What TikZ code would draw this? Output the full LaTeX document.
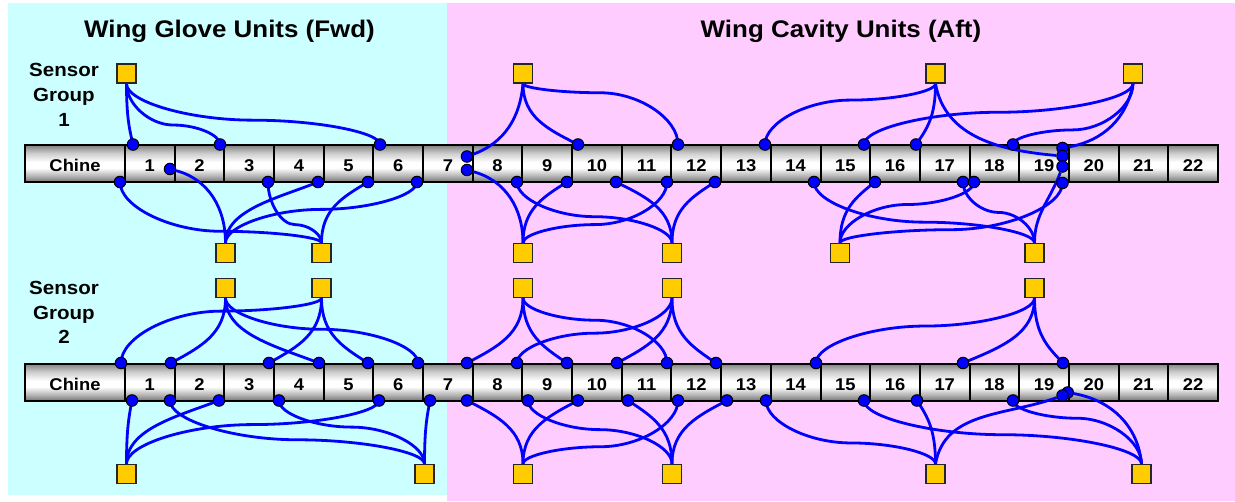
\documentclass[tikz,border=0pt]{standalone}
\usepackage{fontspec}
\setmainfont{Liberation Sans}
\usetikzlibrary{calc}
\definecolor{cyanbg}{RGB}{204,255,255}
\definecolor{pinkbg}{RGB}{255,204,255}
\definecolor{gold}{RGB}{255,204,0}
\definecolor{wireblue}{RGB}{0,0,255}
\pgfdeclarelayer{bgl}\pgfdeclarelayer{wl}\pgfsetlayers{bgl,wl,main}
\pgfdeclareverticalshading{cylsh}{100bp}{color(0bp)=(black!55); color(25bp)=(black!55); color(33bp)=(black!30); color(44bp)=(white); color(52bp)=(white); color(64bp)=(black!20); color(75bp)=(black!50); color(100bp)=(black!50)}
\newcommand\wx[1]{\scalebox{1.08}[1]{#1}}
% S-shaped connector: vertical tangents at both ends, flat part at fraction #1
\newcommand\wirec[3][0.5]{%
  \draw[wire] let \p1=(#2), \p2=(#3), \n1={\y1+#1*(\y2-\y1)} in
    (\p1) .. controls (\x1,{0.5*\y1+0.5*\n1}) and ({0.75*\x1+0.25*\x2},\n1)
    .. ({0.5*\x1+0.5*\x2},\n1)
    .. controls ({0.25*\x1+0.75*\x2},\n1) and (\x2,{0.5*\n1+0.5*\y2}) .. (\p2);%
}
% short connector: vertical at the square (#2), slanted at the dot (#3)
\newcommand\wiresh[3][0.55]{%
  \draw[wire] let \p1=(#2), \p2=(#3) in
    (\p1) .. controls (\x1,{\y1+0.55*(\y2-\y1)}) and ({\x2+#1*(\x1-\x2)},{\y2+0.25*(\y1-\y2)}) .. (\p2);%
}
\tikzset{
  sq/.style={draw=black!85, line width=1.3pt, fill=gold, minimum size=19pt, inner sep=0pt},
  dot/.style={circle, draw=black, line width=1pt, fill=wireblue, minimum size=11.5pt, inner sep=0pt},
  wire/.style={draw=wireblue, line width=2.8pt},
  cell/.style={draw=black, line width=2pt, shade, shading=cylsh},
  celltxt/.style={font=\fontsize{17}{20}\selectfont\bfseries, inner sep=0pt, anchor=base},
  titletxt/.style={font=\fontsize{24}{28}\selectfont\bfseries, inner sep=0pt, anchor=base},
  sgtxt/.style={font=\fontsize{19}{23}\selectfont\bfseries, inner sep=0pt, anchor=base},
}
\begin{document}
\begin{tikzpicture}[x=1pt,y=-1pt]
\useasboundingbox (0,0) rectangle (1235,501);
\begin{pgfonlayer}{bgl}
  \fill[cyanbg] (7.5,3) rectangle (447,495);
  \fill[pinkbg] (447,3) rectangle (1235,501);
  % bars
  \foreach \g/\ya/\yb/\yt in {1/145/182/171.5, 2/363.5/401/390} {
    \draw[cell] (25,\ya) rectangle (125,\yb);
    \node[celltxt] (c\g-0) at (75,\yt) {\wx{Chine}};
    \foreach \k in {1,...,22} {
      \pgfmathsetmacro\xa{125+49.68*(\k-1)}
      \pgfmathsetmacro\xb{125+49.68*\k}
      \draw[cell] (\xa,\ya) rectangle (\xb,\yb);
      \node[celltxt] (c\g-\k) at ({(\xa+\xb)/2},\yt) {\wx{\k}};
    }
  }
\end{pgfonlayer}

% titles
\node[titletxt] (title1) at (229.5,37.5) {\wx{Wing Glove Units (Fwd)}};
\node[titletxt] (title2) at (841,37.5) {\wx{Wing Cavity Units (Aft)}};
\node[sgtxt] (sg1a) at (64,76.7) {\wx{Sensor}};
\node[sgtxt] (sg1b) at (64,101.5) {\wx{Group}};
\node[sgtxt] (sg1c) at (64,126) {\wx{1}};
\node[sgtxt] (sg2a) at (64,294.3) {\wx{Sensor}};
\node[sgtxt] (sg2b) at (64,319.2) {\wx{Group}};
\node[sgtxt] (sg2c) at (64,343.5) {\wx{2}};

% squares
\node[sq] (s1t1) at (126.5,73.5) {};
\node[sq] (s1t2) at (523,73.5) {};
\node[sq] (s1t3) at (935.5,73.5) {};
\node[sq] (s1t4) at (1133,73.5) {};
\node[sq] (s1b1) at (225.5,253) {};
\node[sq] (s1b2) at (321.5,253) {};
\node[sq] (s1b3) at (523,253) {};
\node[sq] (s1b4) at (672,253) {};
\node[sq] (s1b5) at (840,253) {};
\node[sq] (s1b6) at (1034.5,253) {};
\node[sq] (s2t1) at (225.5,288) {};
\node[sq] (s2t2) at (321.5,288) {};
\node[sq] (s2t3) at (523,288) {};
\node[sq] (s2t4) at (672,288) {};
\node[sq] (s2t5) at (1034.5,288) {};
\node[sq] (s2b1) at (126.5,474) {};
\node[sq] (s2b2) at (424.5,474) {};
\node[sq] (s2b3) at (523,474) {};
\node[sq] (s2b4) at (672,474) {};
\node[sq] (s2b5) at (935.5,474) {};
\node[sq] (s2b6) at (1141.5,474) {};

% dots group 1
\foreach \a in {133,220,380,578,678,765,864,916,1013} \node[dot] (u\a) at (\a,144.5) {};
\node[dot] (u467) at (467,156.5) {};
\node[dot] (u1062a) at (1062.5,148) {};
\node[dot] (u1062b) at (1062.5,156) {};
\foreach \a in {120,268,318,368,417,517,567,616,667,715,814,875,963,974} \node[dot] (v\a) at (\a,182) {};
\node[dot] (v170) at (170,169) {};
\node[dot] (v467) at (467,170) {};
\node[dot] (v1062a) at (1062.5,166.5) {};
\node[dot] (v1062) at (1062.5,183) {};
% dots group 2
\foreach \a in {121,171,269,319,368,418,467,517,567,617,667,716,816,963,1063} \node[dot] (U\a) at (\a,363) {};
\foreach \a in {132,170,219,279,379,430,467,528,578,628,678,727,766,864,917,1013} \node[dot] (V\a) at (\a,400.5) {};
\node[dot] (V1068) at (1067.7,392.5) {};
\node[dot] (V1063) at (1062.5,395.5) {};

\begin{pgfonlayer}{wl}
% group 1 top
\wiresh{s1t1.south}{u133}
\wirec[0.68]{s1t1.south}{u220}
\wirec[0.6]{s1t1.south}{u380}
\draw[wire] (s1t2.south) to[out=-95,in=20] (u467);
\wiresh{s1t2.south}{u578}
\wirec[0.15]{s1t2.south}{u678}
\wirec[0.27]{s1t3.south}{u765}
\wirec[0.47]{s1t4.south}{u864}
\wiresh{s1t3.south}{u916}
\wirec[0.76]{s1t4.south}{u1013}
\draw[wire] (s1t4.south) to[out=-100,in=10] (u1062a);
\draw[wire] (s1t3.south) to[out=-80,in=175] (u1062b);
% group 1 bottom
\wirec[0.81]{v120}{s1b2.north}
\draw[wire] (v170) to[out=-15,in=90] (s1b1.north);
\wirec[0.7]{v268}{s1b2.north}
\wiresh[0.4]{s1b1.north}{v318}
\wiresh{s1b2.north}{v368}
\wirec[0.45]{v417}{s1b1.north}
\draw[wire] (v467) to[out=-15,in=90] (s1b3.north);
\wirec[0.57]{v517}{s1b4.north}
\wiresh{s1b3.north}{v567}
\wiresh{s1b4.north}{v616}
\wirec[0.7]{v667}{s1b3.north}
\wiresh{s1b4.north}{v715}
\wirec[0.66]{v814}{s1b6.north}
\wiresh{s1b5.north}{v875}
\wirec{v963}{s1b6.north}
\wirec[0.37]{v974}{s1b5.north}
\draw[wire] (v1062a) to[out=-110,in=90] (s1b6.north);
\wirec[0.78]{v1062}{s1b5.north}
% group 2 top
\wirec[0.2]{s2t2.south}{U121}
\wiresh{s2t1.south}{U171}
\wiresh{s2t2.south}{U269}
\wiresh[0.45]{s2t1.south}{U319}
\wiresh{s2t2.south}{U368}
\wirec[0.48]{s2t1.south}{U418}
\wiresh{s2t3.south}{U467}
\wirec[0.54]{s2t4.south}{U517}
\wiresh{s2t3.south}{U567}
\wiresh{s2t4.south}{U617}
\wirec[0.34]{s2t3.south}{U667}
\wiresh{s2t4.south}{U716}
\wirec[0.43]{s2t5.south}{U816}
\wiresh{s2t5.south}{U963}
\wiresh{s2t5.south}{U1063}
% group 2 bottom
\wiresh{s2b1.north}{V132}
\wirec[0.62]{V170}{s2b2.north}
\wiresh[0.45]{s2b1.north}{V219}
\wirec[0.42]{V279}{s2b2.north}
\wirec[0.38]{V379}{s2b1.north}
\wiresh{s2b2.north}{V430}
\wiresh{s2b3.north}{V467}
\wirec[0.46]{V528}{s2b4.north}
\wiresh{s2b3.north}{V578}
\wiresh{s2b4.north}{V628}
\wirec[0.73]{V678}{s2b3.north}
\wiresh{s2b4.north}{V727}
\wirec[0.67]{V766}{s2b5.north}
\wirec[0.54]{V864}{s2b6.north}
\wiresh{s2b5.north}{V917}
\wirec[0.28]{V1013}{s2b6.north}
\draw[wire] (V1063) to[out=-160,in=80] (s2b5.north);
\draw[wire] (V1068) to[out=-10,in=95] (s2b6.north);
\end{pgfonlayer}
\end{tikzpicture}
\end{document}
